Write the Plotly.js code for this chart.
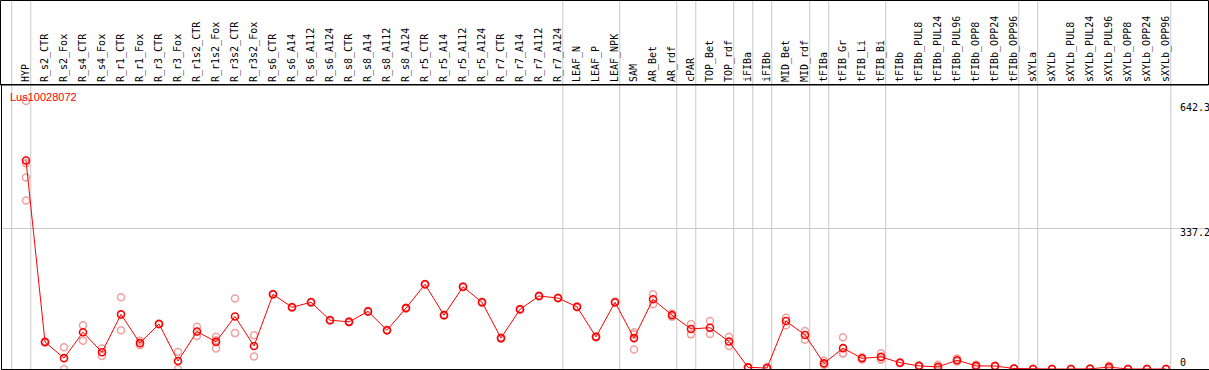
<!DOCTYPE html>
<html>
<head>
<meta charset="utf-8">
<script src="https://cdn.plot.ly/plotly-3.0.1.min.js"></script>
<style>html,body{margin:0;padding:0;background:#fff;overflow:hidden}</style>
</head>
<body>
<div id="chart" style="width:1209px;height:370px"></div>
<script>
const geneId = 'Lus10028072';

const categories = [
  'HYP','R_s2_CTR','R_s2_Fox','R_s4_CTR','R_s4_Fox','R_r1_CTR','R_r1_Fox','R_r3_CTR','R_r3_Fox',
  'R_r1s2_CTR','R_r1s2_Fox','R_r3s2_CTR','R_r3s2_Fox','R_s6_CTR','R_s6_A14','R_s6_A112','R_s6_A124',
  'R_s8_CTR','R_s8_A14','R_s8_A112','R_s8_A124','R_r5_CTR','R_r5_A14','R_r5_A112','R_r5_A124',
  'R_r7_CTR','R_r7_A14','R_r7_A112','R_r7_A124','LEAF_N','LEAF_P','LEAF_NPK','SAM','AR_Bet','AR_rdf',
  'cPAR','TOP_Bet','TOP_rdf','iFIBa','iFIBb','MID_Bet','MID_rdf','tFIBa','tFIB_Gr','tFIB_Li','tFIB_Bi',
  'tFIBb','tFIBb_PUL8','tFIBb_PUL24','tFIBb_PUL96','tFIBb_OPP8','tFIBb_OPP24','tFIBb_OPP96',
  'sXYLa','sXYLb','sXYLb_PUL8','sXYLb_PUL24','sXYLb_PUL96','sXYLb_OPP8','sXYLb_OPP24','sXYLb_OPP96'
];

const meanValues = [
  499.6, 64.7, 26, 88, 40, 131, 62, 108, 19,
  90, 65, 126, 55, 179, 148, 160, 117,
  113, 138, 93, 146, 203, 129, 197, 160,
  74, 143, 175, 170, 149, 77, 160, 74, 167, 129,
  96, 99, 66, 4, 2.4, 115, 81.5, 13.6, 50, 25.6, 29,
  15, 7.5, 5, 21, 7.5, 7.2, 1.2,
  0, 0, 0, 0.5, 4.5, 0, 0, 0
];

const replicates = [
  [642.3, 493, 459, 404], [66, 63], [52, 0], [105, 68], [49, 31], [172, 93], [68, 57], [109, 107], [41, 0],
  [101, 79], [77, 69, 49], [169, 86], [81, 30], [180, 178], [149, 147], [161, 159], [118, 116],
  [114, 112], [139, 137], [94, 92], [147, 145], [204, 202], [130, 128], [198, 196], [161, 159],
  [75, 73], [144, 142], [176, 174], [171, 169], [150, 148], [78, 76], [161, 159], [88, 83, 47], [179, 155], [133, 125],
  [108, 83], [115, 84], [77, 55], [5, 3], [5, 0], [123, 105], [91, 70], [20, 10, 11], [76, 38, 37], [28, 23], [38, 23, 23],
  [16, 14], [8, 7], [10, 1], [25, 18], [10, 5], [8, 6.5], [2, 0.5],
  [0, 0], [0, 0], [0, 0], [1, 0], [8, 1], [0, 0], [0, 0], [0, 0]
];

const groupStarts = ['HYP','R_s2_CTR','LEAF_N','SAM','cPAR','TOP_Bet','iFIBa','iFIBb','MID_Bet',
                     'tFIBa','tFIB_Gr','tFIBb','sXYLa','sXYLb'];
const yTickVals = [0, 337.2, 642.3];
const yGridVals = [337.2];

// ---- build traces ----
const repX = [], repY = [];
replicates.forEach((reps, i) => reps.forEach(v => { repX.push(categories[i]); repY.push(v); }));

const traces = [
  {
    type: 'scatter', mode: 'markers', x: repX, y: repY,
    marker: {symbol: 'circle-open', size: 7, color: '#f0a0a0', line: {width: 1.5}},
    hoverinfo: 'skip', showlegend: false
  },
  {
    type: 'scatter', mode: 'lines+markers', x: categories, y: meanValues,
    line: {color: '#ff0000', width: 1},
    marker: {symbol: 'circle-open', size: 7, color: '#ff0000', line: {width: 1.6}},
    hoverinfo: 'skip', showlegend: false
  }
];

const W = 1209, H = 370, ML = 2, MR = 0, MT = 85, MB = 1;
const plotW = W - ML - MR, plotH = H - MT - MB;
const step = 19, firstPx = 26;
const x0 = -(firstPx - ML) / step;
const x1 = x0 + plotW / step;
const yMax = plotH / (140.7 / 337.2);

const boundaries = groupStarts.map(n => categories.indexOf(n) - 0.75).concat([categories.length - 0.75]);
const shapes = boundaries.map(b => ({
  type: 'line', xref: 'x', yref: 'paper', x0: b, x1: b, y0: 0, y1: 1 + (MT + 1) / plotH,
  line: {color: '#c8c8c8', width: 1}, layer: 'below'
}));
shapes.push({
  type: 'rect', xref: 'paper', yref: 'paper',
  x0: (0.5 - ML) / plotW, x1: (W - 0.5 - ML) / plotW, y0: 1, y1: 1 + (MT - 0.5) / plotH,
  line: {color: '#000', width: 1}, fillcolor: 'rgba(0,0,0,0)', layer: 'above'
});

const labelShift = {0: 7, 337.2: -4, 642.3: -7};
const annotations = yTickVals.map(v => ({
  xref: 'paper', yref: 'y', x: (1178 - ML) / plotW, y: v, xanchor: 'left', yanchor: 'middle',
  yshift: labelShift[v], text: String(v), showarrow: false,
  font: {family: 'DejaVu Sans Mono, monospace', size: 10, color: '#000'}
}));

const layout = {
  width: W, height: H,
  margin: {l: ML, r: MR, t: MT, b: MB, pad: 0},
  paper_bgcolor: '#fff', plot_bgcolor: '#fff',
  showlegend: false, hovermode: false,
  title: {
    text: geneId, xref: 'container', yref: 'container',
    x: 10 / W, xanchor: 'left', y: 1 - 97.5 / H, yanchor: 'middle',
    font: {family: 'Liberation Sans, Arial, sans-serif', size: 11, color: '#ff0000'}
  },
  xaxis: {
    type: 'category', side: 'top', range: [x0, x1],
    tickmode: 'array', tickvals: categories, ticktext: categories,
    tickangle: -90, ticks: '', showgrid: false, zeroline: false,
    showline: true, linecolor: '#000', linewidth: 1, mirror: true,
    tickfont: {family: 'DejaVu Sans Mono, monospace', size: 10, color: '#000'},
    automargin: false, fixedrange: true
  },
  yaxis: {
    range: [0, yMax], tickmode: 'array', tickvals: yGridVals,
    showticklabels: false, ticks: '', showgrid: true, gridcolor: '#c8c8c8', gridwidth: 1,
    zeroline: false, showline: true, linecolor: '#000', linewidth: 1,
    automargin: false, fixedrange: true
  },
  shapes: shapes,
  annotations: annotations
};

Plotly.newPlot('chart', traces, layout, {staticPlot: true, displayModeBar: false});
</script>
</body>
</html>
